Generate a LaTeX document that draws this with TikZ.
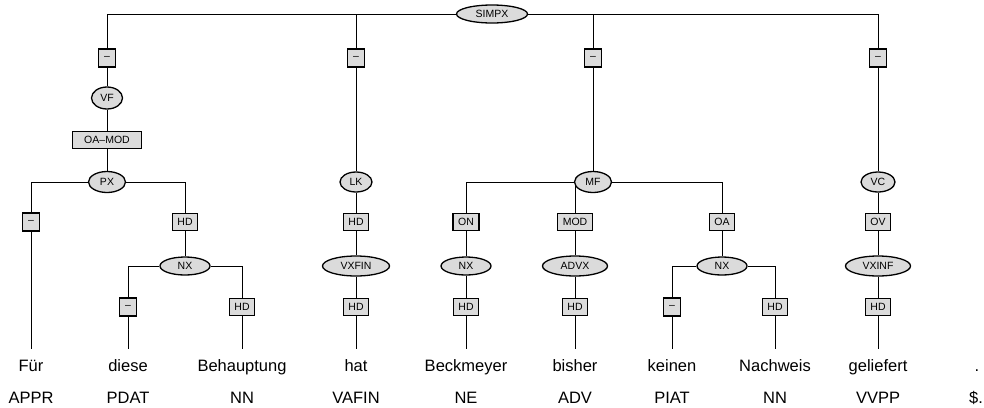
\documentclass[tikz,border=0pt]{standalone}
\usepackage{fontspec}
\setmainfont{Liberation Sans}
\usetikzlibrary{shapes.geometric,backgrounds}
\definecolor{knotengrau}{gray}{0.86}
\tikzset{kat/.style={ellipse, draw=black, fill=knotengrau, font=\fontsize{10.5}{12}\selectfont, inner sep=0pt, minimum height=20pt, minimum width=#1},kat/.default={37pt},
fkt/.style={rectangle, draw=black, fill=knotengrau, font=\fontsize{10.5}{12}\selectfont, inner xsep=5pt, inner ysep=0pt, minimum height=17pt, minimum width=17pt},
wort/.style={font=\fontsize{16.5}{18}\selectfont, anchor=base, inner xsep=0pt, inner ysep=9pt, text height=12pt, text depth=4pt},
tag/.style={font=\fontsize{16.5}{18}\selectfont, anchor=base, inner sep=0pt}}

\begin{document}
\begin{tikzpicture}[x=1pt, y=-1pt, line width=1.3pt]
	\useasboundingbox (0,0) rectangle (984,407);
	%Kategorien
	\node[kat=71pt, minimum height=18pt] (simpx) at (492,14) {SIMPX};
	\node[kat=31pt, minimum height=22pt] (vf) at (107,98) {VF};
	\node[kat, minimum height=21pt] (px) at (107,182) {PX};
	\node[kat=32pt] (lk) at (356,182) {LK};
	\node[kat, minimum height=21pt] (mf) at (593,182) {MF};
	\node[kat=34pt] (vc) at (878,182) {VC};
	\node[kat=50pt, minimum height=18pt] (nxa) at (185,266) {NX};
	\node[kat=67pt] (vxfin) at (356,266) {VXFIN};
	\node[kat=50pt, minimum height=18pt] (nxb) at (466,266) {NX};
	\node[kat=65pt] (advx) at (575,266) {ADVX};
	\node[kat=50pt, minimum height=18pt] (nxc) at (722,266) {NX};
	\node[kat=65pt] (vxinf) at (878,266) {VXINF};
	%Funktionen
	\node[fkt, minimum height=18pt] (fa) at (107,58) {--};
	\node[fkt, minimum height=18pt] (fb) at (356,58) {--};
	\node[fkt, minimum height=18pt] (fc) at (593,58) {--};
	\node[fkt, minimum height=18pt] (fd) at (878,58) {--};
	\node[fkt, minimum width=69pt] (oamod) at (107,140) {OA--MOD};
	\node[fkt, minimum height=18pt] (fe) at (31,222) {--};
	\node[fkt] (hda) at (185,222) {HD};
	\node[fkt] (hdb) at (356,222) {HD};
	\node[fkt] (on) at (466,222) {ON};
	\node[fkt] (mod) at (575,222) {MOD};
	\node[fkt] (oa) at (722,222) {OA};
	\node[fkt] (ov) at (878,222) {OV};
	\node[fkt, minimum height=18pt] (ff) at (128,307) {--};
	\node[fkt] (hdc) at (242,307) {HD};
	\node[fkt] (hdd) at (356,307) {HD};
	\node[fkt] (hde) at (466,307) {HD};
	\node[fkt] (hdf) at (575,307) {HD};
	\node[fkt, minimum height=18pt] (fg) at (672,307) {--};
	\node[fkt] (hdg) at (775,307) {HD};
	\node[fkt] (hdh) at (878,307) {HD};
	%Woerter
	\node[wort] (w1) at (31,371) {Für};
	\node[wort] (w2) at (128,371) {diese};
	\node[wort] (w3) at (242,371) {Behauptung};
	\node[wort] (w4) at (356,371) {hat};
	\node[wort] (w5) at (466,371) {Beckmeyer};
	\node[wort] (w6) at (575,371) {bisher};
	\node[wort] (w7) at (672,371) {keinen};
	\node[wort] (w8) at (775,371) {Nachweis};
	\node[wort] (w9) at (878,371) {geliefert};
	\node[wort] (w10) at (977,371) {.};
	%Tags
	\node[tag] (t1) at (31,403) {APPR};
	\node[tag] (t2) at (128,403) {PDAT};
	\node[tag] (t3) at (242,403) {NN};
	\node[tag] (t4) at (356,403) {VAFIN};
	\node[tag] (t5) at (466,403) {NE};
	\node[tag] (t6) at (575,403) {ADV};
	\node[tag] (t7) at (672,403) {PIAT};
	\node[tag] (t8) at (775,403) {NN};
	\node[tag] (t9) at (878,403) {VVPP};
	\node[tag] (t10) at (976,403) {\$.};
	%Kanten
	\begin{scope}[on background layer]
	\draw (simpx) -| (fa);
	\draw (simpx) -| (fb);
	\draw (simpx) -| (fc);
	\draw (simpx) -| (fd);
	\draw (fa) -- (vf) -- (oamod) -- (px);
	\draw (px) -| (fe);
	\draw (fe) -- (w1);
	\draw (px) -| (hda);
	\draw (hda) -- (nxa);
	\draw (nxa) -| (ff);
	\draw (ff) -- (w2);
	\draw (nxa) -| (hdc);
	\draw (hdc) -- (w3);
	\draw (fb) -- (lk) -- (hdb) -- (vxfin) -- (hdd) -- (w4);
	\draw (fc) -- (mf);
	\draw (mf) -| (on);
	\draw (on) -- (nxb) -- (hde) -- (w5);
	\draw (mf) -| (mod);
	\draw (mod) -- (advx) -- (hdf) -- (w6);
	\draw (mf) -| (oa);
	\draw (oa) -- (nxc);
	\draw (nxc) -| (fg);
	\draw (fg) -- (w7);
	\draw (nxc) -| (hdg);
	\draw (hdg) -- (w8);
	\draw (fd) -- (vc) -- (ov) -- (vxinf) -- (hdh) -- (w9);
	\end{scope}
\end{tikzpicture}
\end{document}
